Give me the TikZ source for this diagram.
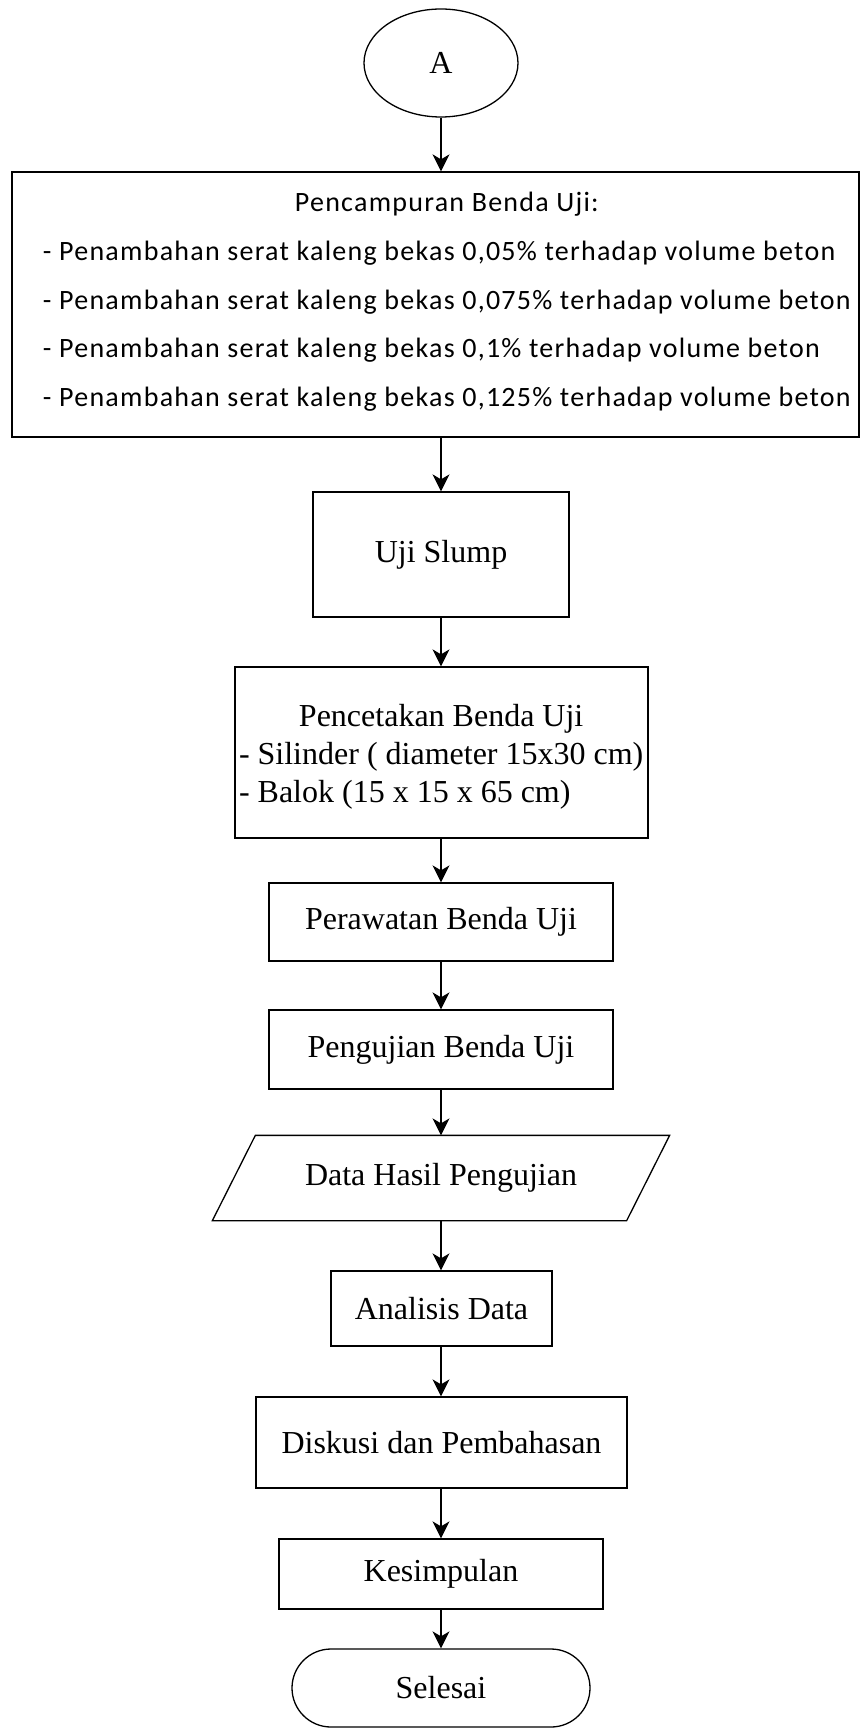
\documentclass[tikz,border=0pt]{standalone}
\usepackage{fontspec}
\setmainfont{Liberation Serif}
\newfontfamily\calibri[LetterSpace=4.5]{Carlito}
\usetikzlibrary{arrows.meta,shapes.geometric}

\begin{document}
\begin{tikzpicture}[x=1pt, y=-1pt, line width=1.3pt,
    >={Stealth[length=17pt,width=17pt,inset=5pt]},
    every node/.style={font=\fontsize{32}{38}\selectfont},
    box/.style={draw, rectangle, inner sep=2.5pt}]
    \useasboundingbox (0,0) rectangle (860,1728);
    \node[draw, ellipse, minimum width=154, minimum height=108] (A) at (441,63) {A};
    \node[box, inner xsep=0pt, minimum height=265,
        font=\calibri\fontsize{28}{48.7}\selectfont] (mix) at (435.5,304.5)
        {\makebox[847pt][l]{\hspace{31pt}\raisebox{5pt}[\height][\depth]{\begin{tabular}{@{}l@{}}
         \multicolumn{1}{@{}c@{}}{Pencampuran Benda Uji:}\\
         - Penambahan serat kaleng bekas 0,05\% terhadap volume beton\\
         - Penambahan serat kaleng bekas 0,075\% terhadap volume beton\\
         - Penambahan serat kaleng bekas 0,1\% terhadap volume beton\\
         - Penambahan serat kaleng bekas 0,125\% terhadap volume beton
         \end{tabular}}}};
    \node[box, minimum width=256, minimum height=125] (slump) at (441,554.5) {Uji Slump};
    \node[box, inner xsep=0pt, minimum height=171] (cetak) at (441.5,752.5)
        {\makebox[413pt][l]{\hspace{4pt}\raisebox{-4pt}[\height][\depth]{\begin{tabular}{@{}l@{}}
         \multicolumn{1}{@{}c@{}}{Pencetakan Benda Uji}\\
         - Silinder ( diameter 15x30 cm)\\
         - Balok (15 x 15 x 65 cm)
         \end{tabular}}}};
    \node[box, minimum width=344, minimum height=78] (rawat) at (441,922) {Perawatan Benda Uji};
    \node[box, minimum width=344, minimum height=79] (uji) at (441,1049.5) {Pengujian Benda Uji};
    \node[minimum width=413, minimum height=84] (data) at (441,1178) {Data Hasil Pengujian};
    \draw ([xshift=-21.5pt]data.south west) -- ([xshift=-21.5pt]data.south east)
        -- ([xshift=21.5pt]data.north east) -- ([xshift=21.5pt]data.north west) -- cycle;
    \node[box, minimum width=221, minimum height=75] (analisis) at (441.5,1308.5) {Analisis Data};
    \node[box, minimum width=371, minimum height=91] (diskusi) at (441.5,1442.5) {Diskusi dan Pembahasan};
    \node[box, minimum width=324, minimum height=70] (simpul) at (441,1574) {Kesimpulan};
    \node[draw, rectangle, rounded corners=39pt, minimum width=298, minimum height=78] (selesai)
        at (441,1688) {Selesai};
    \draw[->] (A.south) -- (A.south |- mix.north);
    \draw[->] (mix.south -| slump.north) -- (slump.north);
    \draw[->] (slump.south) -- (slump.south |- cetak.north);
    \draw[->] (cetak.south -| rawat.north) -- (rawat.north);
    \draw[->] (rawat) -- (uji);
    \draw[->] (uji) -- (data);
    \draw[->] (data.south) -- (data.south |- analisis.north);
    \draw[->] (analisis.south -| data.south) -- (data.south |- diskusi.north);
    \draw[->] (diskusi.south -| simpul.north) -- (simpul.north);
    \draw[->] (simpul) -- (selesai);
\end{tikzpicture}
\end{document}
